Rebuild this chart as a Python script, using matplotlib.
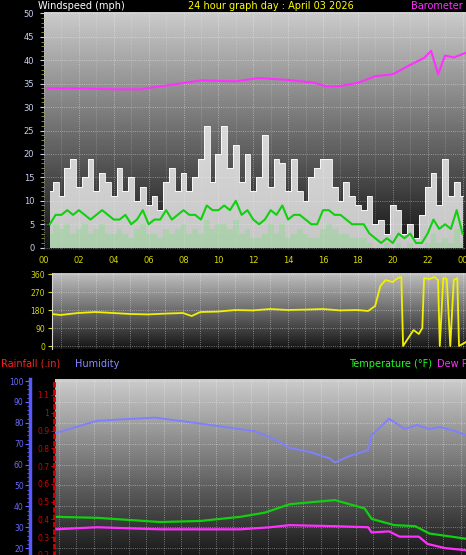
import numpy as np, matplotlib
matplotlib.use("Agg"); import matplotlib.pyplot as plt
plt.rcParams.update({"font.family": "DejaVu Sans"})

W, H = 466, 555
YEL = "#d8d800"; MAG = "#ff30ff"; LBL = "#c8d0f0"

# ---- data ----
wind_h = np.arange(1, 73) / 3.0
gust = [12,14,11,17,19,13, 15,19,12,16,14,11, 17,12,15,10,13,9, 11,8,14,17,12,16,
        12,15,19,26,14,20, 26,17,22,14,20,12, 15,24,13,19,18,12, 19,12,10,15,17,19,
        19,13,10,14,11,9, 8,11,5,6,3,9, 8,3,5,2,7,13, 16,9,19,11,14,11]
avg = [5,7,7,8,7,8, 7,6,7,8,7,6, 6,7,5,6,8,5, 6,6,8,6,7,8, 7,7,6,9,8,8,
       9,8,10,7,8,6, 5,6,8,7,9,6, 7,7,6,5,5,8, 8,7,7,6,5,5, 5,3,2,1,2,1,
       3,2,3,1,1,3, 6,4,5,4,8,3]
lull = [3,5,4,5,3,4, 5,3,4,5,3,3, 4,3,2,4,5,3, 3,2,4,3,4,5, 3,4,3,6,4,5,
        5,4,6,3,4,2, 2,3,5,3,5,2, 3,4,3,2,2,4, 5,4,3,3,2,2, 2,1,0,0,1,0,
        1,0,1,0,0,1, 3,1,2,1,4,1]
baro_h = [0.2,2,4,5.5,7,9,11,12.3,14,15.5,16.2,17,18,19,20,21,21.8,22.2,22.6,23,23.5,24.2]
baro = [34,34,33.8,33.8,34.6,35.7,35.5,36.2,35.8,35.2,34.4,34.5,35.2,36.6,37,39,40.5,42,37,41,40.6,41.6]
dir_h = [0.5,1,2,3,4,5,6,7,8,8.5,9,10,11,12,13,14,15,16,17,18,18.6,19.0,19.3,19.6,20,20.3,20.5,
         20.6,20.9,21.2,21.5,21.7,21.8,22.1,22.4,22.6,22.7,22.9,23.1,23.3,23.5,23.7,23.8,24.2]
wdir = [160,155,165,170,165,160,158,162,165,150,170,172,180,178,185,180,182,185,178,180,175,200,
        300,330,320,340,345,0,40,80,60,90,340,335,345,330,0,340,335,0,330,340,0,20]
hum_h = [0.69,3.1,6.4,8.7,10.4,12.1,13.3,14.1,15.3,16.4,16.7,17.5,18.6,18.8,19.8,20.7,21.4,
         22.1,22.7,23.6,24.2]
hum = [75,81,82.5,80,78,76,72,68,66,63,61,64,67,74,82,77,79,77,78,76,74]
temp_h = [0.69,3.1,6.7,9.0,11.3,12.7,14.1,14.7,16.7,18.4,18.8,20.1,21.3,22.1,24.2]
temp = [35,34.5,32.5,33,35,37,41,41.5,43,39,34,31,30.5,27,24.5]
dew_h = [0.69,3.1,6.7,11.3,13.0,14.1,16.7,18.6,18.8,19.8,20.4,21.5,22.0,23.0,24.2]
dew = [29,30,29,29,30,31,30.5,30,27.5,28,25.5,25.5,22,20,19]

fig = plt.figure(figsize=(W/100, H/100), dpi=100, facecolor="black")

def add(l, t, r, b):
    return fig.add_axes([l/W, 1-b/H, (r-l)/W, (b-t)/H])

grad = np.linspace(0, 1, 256).reshape(-1, 1)
def bg(ax, lo=0.07, hi=0.8):
    ax.imshow(grad, extent=[0, 1, 0, 1], transform=ax.transAxes, cmap="gray", origin="lower",
              vmin=-lo/(hi-lo), vmax=(1-lo)/(hi-lo), aspect="auto", zorder=0)
    ax.grid(True, color="white", ls=":", lw=0.6, alpha=0.5, zorder=1)
    for s in ax.spines.values(): s.set_visible(False)

# ---- wind panel ----
ax = add(44, 12, 466, 250)
bg(ax)
ax.set_xlim(0.05, 24.2); ax.set_ylim(-0.5, 50.3)
ax.fill_between(wind_h, lull, gust, step="mid", color="#f4f4f4", alpha=0.8, lw=0, zorder=2)
ax.step(wind_h, gust, where="mid", color="white", lw=0.6, zorder=3)
ax.fill_between(wind_h, 0, lull, step="mid", color="#c8f0c8", alpha=0.85, lw=0, zorder=3)
ax.plot(wind_h, avg, color="#10d010", lw=1.5, zorder=4)
ax.plot(baro_h, baro, color=MAG, lw=1.5, zorder=4)
ax.set_yticks(range(0, 51, 5)); ax.set_xticks(range(0, 25, 2))
ax.set_xticks(range(0, 25), minor=True); ax.set_yticks(range(0, 51), minor=True)
ax.set_xticklabels([f"{h % 24:02d}" for h in range(0, 25, 2)])
ax.tick_params(axis="y", colors=LBL, labelsize=6, length=3, pad=4)
ax.tick_params(axis="x", colors=YEL, labelsize=6, length=0, pad=4)
ax.tick_params(which="minor", length=2, color="#a0a040")
ax.tick_params(axis="x", which="minor", length=0)
ax.grid(True, which="minor", axis="x", color="white", ls=":", lw=0.5, alpha=0.35)

fig.text(38/W, 1-6/H, "Windspeed (mph)", color="white", fontsize=7, va="center")
fig.text(271/W, 1-6/H, "24 hour graph day : April 03 2026", color="yellow", fontsize=7,
         va="center", ha="center")
fig.text(463/W, 1-6/H, "Barometer", color=MAG, fontsize=7, va="center", ha="right")

# ---- direction panel ----
ax2 = add(52, 273, 466, 349)
bg(ax2, 0.08, 0.75)
ax2.set_xlim(0.51, 24.2); ax2.set_ylim(-15, 365)
ax2.plot(dir_h, wdir, color="#f0f000", lw=1.3, zorder=3)
ax2.set_yticks([0, 90, 180, 270, 360]); ax2.set_xticks(range(1, 25))
ax2.set_xticklabels([])
ax2.tick_params(axis="y", colors=YEL, labelsize=5.5, length=3, pad=2)
ax2.tick_params(axis="x", length=0)
ax2.spines["left"].set_visible(True); ax2.spines["left"].set_color("#d8d8d8")

# ---- temperature / humidity panel ----
ax3 = add(55, 379, 466, 555)
bg(ax3, 0.1, 0.8)
ax3.set_xlim(0.69, 24.2); ax3.set_ylim(16.7, 101)
ax3.plot(hum_h, hum, color="#8080ff", lw=1.4, zorder=3)
ax3.plot(temp_h, temp, color="#10d010", lw=1.6, zorder=3)
ax3.plot(dew_h, dew, color=MAG, lw=1.6, zorder=3)
ax3.set_xticks(np.arange(1, 25) - 0.1); ax3.set_xticklabels([])
ax3.set_yticks(range(20, 101, 10)); ax3.set_yticks(range(20, 101, 2), minor=True)
ax3.spines["left"].set_visible(True)
ax3.spines["left"].set_position(("outward", 18)); ax3.spines["left"].set_color("#5858ff")
ax3.spines["left"].set_linewidth(2.5)
ax3.tick_params(axis="y", which="both", colors="#6868ff", labelsize=5.5, pad=1)
ax3.tick_params(axis="y", which="minor", length=2)
ax3.tick_params(axis="x", length=0)
ax3.grid(True, which="major", axis="y", color="white", ls=":", lw=0.6, alpha=0.5)

rain = ax3.twinx()
rain.set_ylim(0.199, 1.19)
rain.yaxis.tick_left()
for s in ["top", "right", "bottom"]: rain.spines[s].set_visible(False)
rain.spines["left"].set_position(("outward", 1)); rain.spines["left"].set_color("#d00000")
rain.spines["left"].set_linestyle(":"); rain.spines["left"].set_linewidth(2)
rain.set_yticks(np.arange(0.2, 1.15, 0.1))
rain.set_yticklabels(["0.2","0.3","0.4","0.5","0.6","0.7","0.8","0.9","1","1.1"])
rain.tick_params(axis="y", colors="#d00000", labelsize=5.5, length=2, pad=1)

fig.text(1/W, 1-364/H, "Rainfall (.in)", color="#ff2020", fontsize=7, va="center")
fig.text(75/W, 1-364/H, "Humidity", color="#8888ff", fontsize=7, va="center")
fig.text(349/W, 1-364/H, "Temperature (°F)", color="#20ff20", fontsize=7, va="center")
fig.text(437/W, 1-364/H, "Dew Point", color=MAG, fontsize=7, va="center")

fig.savefig("out.png", dpi=100, facecolor="black")
